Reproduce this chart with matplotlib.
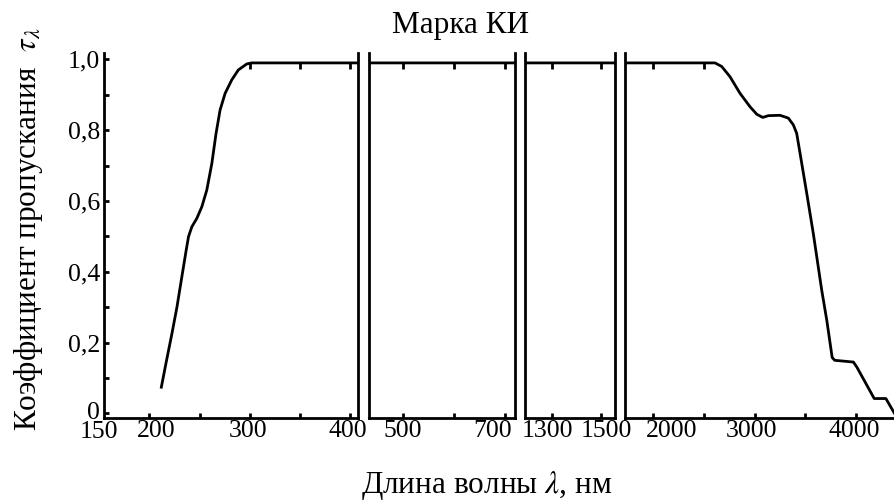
import numpy as np
import matplotlib
matplotlib.use("Agg")
import matplotlib.pyplot as plt
import matplotlib.transforms as mtransforms

plt.rcParams['font.family'] = 'Liberation Serif'
plt.rcParams['mathtext.fontset'] = 'stix'

# transmission curve (wavelength in nm)
wavelength = [212, 216.5, 222.5, 227.5, 232.4, 236.7, 239, 242.3, 247.3, 252.3,
              257.2, 262.2, 266.4, 270.4, 275.4, 282, 288.5, 296.9, 301.8,
              2609, 2675, 2757, 2856, 2955, 3021, 3080, 3135, 3251, 3333,
              3382, 3415, 3448, 3514, 3579, 3662, 3712, 3765, 3790, 3975,
              4010, 4180, 4295, 4380]
tau = [0.074, 0.14, 0.225, 0.30, 0.386, 0.461, 0.499, 0.527, 0.551, 0.584,
       0.631, 0.706, 0.791, 0.857, 0.904, 0.942, 0.970, 0.987, 0.99,
       0.99, 0.98, 0.951, 0.904, 0.866, 0.845, 0.836, 0.841, 0.842, 0.834,
       0.815, 0.791, 0.735, 0.622, 0.508, 0.348, 0.263, 0.158, 0.150, 0.145,
       0.13, 0.042, 0.042, 0.0]

# broken x axis: one panel per wavelength range
x_ranges = [(155, 408), (435, 720), (1187, 1559), (1721, 4385)]
x_ticks = [[200, 250, 300, 350, 400], [500, 600, 700], [1300, 1500],
           [2000, 2500, 3000, 3500, 4000]]
x_labels = [['200', '', '300', '', '400'], ['500', '', '700'], ['1300', '1500'],
            ['2000', '', '3000', '', '4000']]
# hand placed labels in the original, shift in pixels
x_shift = [[7, 0, -2, 0, -3], [0, 0, -12], [-5, 6], [18, 0, -3, 0, -2]]

y_ticks = [0, 0.2, 0.4, 0.6, 0.8, 1.0]
y_labels = ['0', '0,2', '0,4', '0,6', '0,8', '1,0']
y_minor = [0.1, 0.3, 0.5, 0.7, 0.9]

W, H = 895, 504
left_px = [104, 369.3, 525, 625]
right_px = [358.5, 515, 615, 895]
top_px, bottom_px = 53, 418
LW = 2.0
FS_TICK = 18.5
FS_LAB = 22.5
XPAD = 1.5

fig = plt.figure(figsize=(W / 100, H / 100), dpi=100)
plateau = max(tau)

axes = []
for i in range(4):
    ax = fig.add_axes([left_px[i] / W, 1 - bottom_px / H,
                       (right_px[i] - left_px[i]) / W, (bottom_px - top_px) / H])
    ax.plot(wavelength, tau, color='black', lw=LW, solid_joinstyle='round')
    ax.set_xlim(x_ranges[i])
    ax.set_ylim(-0.013, 1.018)
    ax.spines['top'].set_visible(False)
    if i == 3:
        ax.spines['right'].set_visible(False)
    for s in ax.spines.values():
        s.set_linewidth(LW)
    ax.set_xticks(x_ticks[i], labels=x_labels[i])
    ax.tick_params(axis='x', direction='in', length=3.8, width=2, pad=XPAD,
                   labelsize=FS_TICK, top=False)
    if i == 0:
        ax.set_yticks(y_ticks, labels=y_labels)
        ax.set_yticks(y_minor, minor=True)
        ax.tick_params(axis='y', which='both', direction='in', length=3.4,
                       width=2, pad=3, labelsize=FS_TICK, right=False)
        # the "0" stands a little higher than its tick in the original
        lab0 = ax.yaxis.get_majorticklabels()[0]
        lab0.set_transform(lab0.get_transform() +
                           mtransforms.ScaledTranslation(0, 2.5 / 100, fig.dpi_scale_trans))
    else:
        ax.set_yticks([])
    for lab, dx in zip(ax.xaxis.get_majorticklabels(), x_shift[i]):
        if dx:
            lab.set_transform(lab.get_transform() +
                              mtransforms.ScaledTranslation(dx / 100, 0, fig.dpi_scale_trans))

    # small ticks hanging from the flat part of the curve
    on_plateau = [t for t in x_ticks[i] if np.interp(t, wavelength, tau) >= plateau - 0.005]
    top = ax.twiny()
    top.set_xlim(ax.get_xlim())
    for s in top.spines.values():
        s.set_visible(False)
    top.spines['top'].set_position(('data', plateau))
    top.set_xticks(on_plateau)
    top.tick_params(axis='x', direction='in', length=4.5, width=2,
                    labeltop=False, top=True, bottom=False)
    axes.append(ax)

# "150" sits left of the first panel, where no tick is drawn
tr150 = mtransforms.blended_transform_factory(axes[0].transData, axes[0].transAxes) + \
    mtransforms.ScaledTranslation(0, -(XPAD + 1) / 72, fig.dpi_scale_trans)
axes[0].text(150, 0, '150', fontsize=FS_TICK, ha='center', va='top',
             transform=tr150, clip_on=False)

fig.text(461 / W, 1 - 25 / H, 'Марка КИ', fontsize=FS_LAB, ha='center', va='center')
fig.text(487 / W, 1 - 486 / H, r'Длина волны $\lambda$, нм', fontsize=FS_LAB,
         ha='center', va='center')
fig.text(29 / W, 1 - 229 / H, r'Коэффициент пропускания  $\tau_\lambda$', fontsize=FS_LAB,
         ha='center', va='center', rotation=90)

plt.savefig('out.png', dpi=100)
